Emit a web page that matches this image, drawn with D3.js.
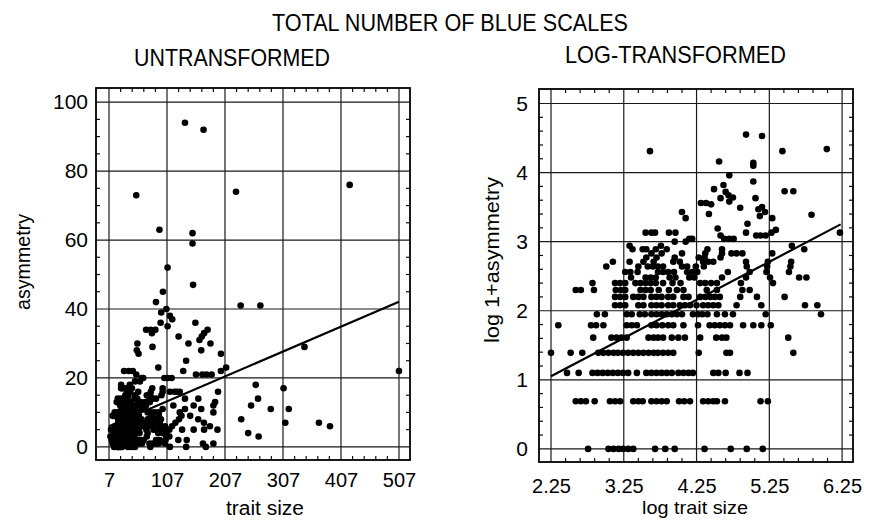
<!DOCTYPE html>
<html><head><meta charset="utf-8">
<script src="https://cdn.jsdelivr.net/npm/d3@7"></script>
<style>
body{margin:0;background:#fff}
text{font-family:"Liberation Sans",Arial,sans-serif;fill:#000}
</style>
</head><body>
<svg id="c" width="881" height="520"></svg>
<script>
// ---------- DATA ----------
const titleMain = "TOTAL NUMBER OF BLUE SCALES";
const titleLeft = "UNTRANSFORMED";
const titleRight = "LOG-TRANSFORMED";
const leftXLabel = "trait size", leftYLabel = "asymmetry";
const rightXLabel = "log trait size", rightYLabel = "log 1+asymmetry";

const leftXTicks = [7,107,207,307,407,507];
const leftYTicks = [0,20,40,60,80,100];
const rightXTicks = [2.25,3.25,4.25,5.25,6.25];
const rightYTicks = [0,1,2,3,4,5];

// untransformed: each row = [asymmetry, trait sizes...]
const untransformedRows = [
 [0, 15.8,20.9,22.4,24.0,25.5,27.4,29.4,39.6,45.6,51.9,78.3,112,140,174],
 [1, 13.3,14.3,15.3,17.3,21.3,22.9,24.5,29.4,31.5,33.4,37.7,40.4,43.4,46.5,55.2,59.1,64.1,76.7,82.3,88.2,92.8,103.5,169,187],
 [2, 11.8,13.9,16.8,18.0,19.3,20.7,22.2,23.8,25.5,27.4,30.9,35.2,37.7,40.4,43.4,46.5,49.9,54.6,58.6,62.8,66.7,88.2,94.6,104.6,126.5,141],
 [3, 9.5,12.4,14.6,18.2,19.5,20.9,22.4,23.8,25.5,27.4,29.4,31.5,33.8,36.2,38.9,41.3,44.3,47.5,50.9,72.2,105.6,111.1,265],
 [4, 16.9,21.8,23.3,25.0,26.8,36.2,38.9,41.3,44.3,49.9,54.6,59.7,73.7,91.8,99.5,105.6,247],
 [5, 10.5,16.4,17.6,19.5,26.8,28.8,30.9,37.7,40.4,43.8,47.5,50.9,58.6,71.5,83.9,90.0,96.5,103.5,111.1,133,153,171,194],
 [6, 17.8,19.9,26.8,28.8,32.1,34.5,37.7,40.4,43.4,46.5,49.9,53.5,57.4,66.7,71.5,75.9,81.5,92.8,103.5,115.6,181,388],
 [7, 22.9,24.5,26.3,31.5,33.8,37.7,40.4,43.4,47.5,50.9,55.7,59.7,64.1,70.1,76.7,82.3,88.2,94.6,121.5,170.7,311,369],
 [8, 22.9,24.5,26.3,29.4,31.5,33.8,37.7,40.4,43.4,47.5,50.9,58.6,62.8,73.7,79.0,84.8,90.0,96.5,127.7,160.8,235],
 [9, 13.3,14.3,17.1,23.1,24.8,26.3,32.5,34.8,37.3,41.7,47.9,53.5,58.6,80.6,92.8,132,147],
 [10, 16.8,22.9,24.5,26.3,30.3,32.5,34.8,37.3,40.0,44.3,50.4,56.3,73.7,79.0,85.6,92.8,129,187],
 [11, 28.5,34.8,37.3,40.0,48.4,52.5,63.4,68.0,99.5,138,166,286,317],
 [12, 26.3,28.2,31.2,41.3,44.3,47.5,51.4,61.6,66.0,70.8,118,153,187,252],
 [13, 20.3,31.5,35.9,38.5,41.3,44.3,57.4,61.6,69.4,77.5,190],
 [14, 22.2,27.9,33.8,38.9,50.9,55.7,76.7,82.3,88.2,138,161,264],
 [15, 35.2,40.4,51.9,72.2,78.3,97.5],
 [16, 37.7,43.4,57.4,79.0,99.5,112,120,124,129,195],
 [17, 27.9,29.1,33.4,35.2,40.0,46.5,81.5,99.5,308],
 [18, 27.9,42.9,260],
 [19, 51.9,60.3],
 [20, 63.4,66.0,102.5,108,115],
 [21, 54,157,168,175,184],
 [22, 33,41,48,135,200,507],
 [23, 92,209],
 [25, 140],
 [27, 58,200],
 [28, 55,166],
 [29, 82,344],
 [30, 56,144,182],
 [31, 163],
 [32, 127,167],
 [33, 81,171],
 [34, 71,79,87,177],
 [35, 108],
 [36, 96,156],
 [37, 116],
 [38, 112],
 [39, 97],
 [40, 106],
 [41, 234,268],
 [42, 88],
 [45, 100],
 [47, 152],
 [52, 108],
 [59, 151],
 [62, 151],
 [63, 94],
 [73, 54],
 [74, 226],
 [76, 422],
 [92, 170],
 [94, 138]
];

// log-transformed: each row = [log 1+asymmetry, log trait sizes...]
const logRows = [
 [0, 2.76,3.04,3.11,3.18,3.24,3.31,3.38,3.68,3.82,3.95,4.36,4.72,4.94,5.16],
 [0.69, 2.59,2.66,2.73,2.85,3.06,3.13,3.20,3.38,3.45,3.51,3.63,3.70,3.77,3.84,4.01,4.08,4.16,4.34,4.41,4.48,4.53,4.64,5.13,5.23],
 [1.10, 2.47,2.63,2.82,2.89,2.96,3.03,3.10,3.17,3.24,3.31,3.43,3.56,3.63,3.70,3.77,3.84,3.91,4.00,4.07,4.14,4.20,4.48,4.55,4.65,4.84,4.95],
 [1.39, 2.25,2.52,2.68,2.90,2.97,3.04,3.11,3.17,3.24,3.31,3.38,3.45,3.52,3.59,3.66,3.72,3.79,3.86,3.93,4.28,4.66,4.71,5.58],
 [1.61, 2.83,3.08,3.15,3.22,3.29,3.59,3.66,3.72,3.79,3.91,4.00,4.09,4.30,4.52,4.60,4.66,5.51],
 [1.79, 2.35,2.80,2.87,2.97,3.29,3.36,3.43,3.63,3.70,3.78,3.86,3.93,4.07,4.27,4.43,4.50,4.57,4.64,4.71,4.89,5.03,5.14,5.27],
 [1.95, 2.88,2.99,3.29,3.36,3.47,3.54,3.63,3.70,3.77,3.84,3.91,3.98,4.05,4.20,4.27,4.33,4.40,4.53,4.64,4.75,5.20,5.96],
 [2.08, 3.13,3.20,3.27,3.45,3.52,3.63,3.70,3.77,3.86,3.93,4.02,4.09,4.16,4.25,4.34,4.41,4.48,4.55,4.80,5.14,5.74,5.91],
 [2.20, 3.13,3.20,3.27,3.38,3.45,3.52,3.63,3.70,3.77,3.86,3.93,4.07,4.14,4.30,4.37,4.44,4.50,4.57,4.85,5.08,5.46],
 [2.30, 2.59,2.66,2.84,3.14,3.21,3.27,3.48,3.55,3.62,3.73,3.87,3.98,4.07,4.39,4.53,4.88,4.98],
 [2.40, 2.82,3.13,3.20,3.27,3.41,3.48,3.55,3.62,3.69,3.79,3.92,4.03,4.30,4.37,4.45,4.53,4.86,5.30],
 [2.48, 3.35,3.55,3.62,3.69,3.88,3.96,4.15,4.22,4.60,4.93,5.26,5.66,5.76],
 [2.56, 3.27,3.34,3.44,3.72,3.79,3.86,3.94,4.12,4.19,4.26,4.68,4.98,5.21,5.52],
 [2.64, 3.01,3.45,3.58,3.65,3.72,3.79,4.05,4.12,4.24,4.35,4.94,5.22,5.54],
 [2.71, 3.10,3.33,3.52,3.66,3.93,4.02,4.34,4.41,4.48,4.93,5.23,5.55],
 [2.77, 3.56,3.70,3.95,4.28,4.36,4.58],
 [2.83, 3.63,3.77,4.05,4.37,4.60,4.73,4.80,4.88,5.29],
 [2.89, 3.37,3.51,3.56,3.69,3.84,4.40,4.60,5.73],
 [2.94, 3.33,3.76,5.56],
 [3.00, 3.95,4.10],
 [3.04, 4.15,4.19,4.63,4.70,4.76],
 [3.09, 4.58,5.07,5.13,5.20],
 [3.13, 3.55,3.63,3.68,3.87,3.96,4.93,5.28,6.22],
 [3.17, 5.34],
 [3.19, 4.54],
 [3.26, 4.95],
 [3.34, 4.10,5.29],
 [3.37, 5.12],
 [3.39, 5.83],
 [3.40, 4.42],
 [3.43, 4.05,5.19],
 [3.47, 5.10],
 [3.49, 4.85],
 [3.50, 5.15],
 [3.54, 4.45],
 [3.56, 4.31,4.38],
 [3.58, 4.70],
 [3.63, 4.58,5.06],
 [3.64, 4.75],
 [3.67, 4.69],
 [3.72, 4.65],
 [3.73, 5.46,5.58],
 [3.76, 4.49],
 [3.82, 4.62],
 [3.87, 5.03],
 [3.96, 4.70],
 [4.10, 5.03],
 [4.14, 5.03],
 [4.16, 4.56],
 [4.31, 3.61,5.43],
 [4.34, 6.04],
 [4.53, 5.15],
 [4.55, 4.93]
];

// fitted lines (endpoints)
const untransformedFit = [[7, 6.0],[507, 42.1]];
const logFit = [[2.25, 1.05],[6.23, 3.25]];

// ---------- DRAW ----------
const svg = d3.select("#c");
const flat = rows => rows.flatMap(r => r.slice(1).map(x => [x, r[0]]));

function panel(o){
  const g = svg.append("g");
  const [x0,x1] = o.x.range(), [y0,y1] = o.y.range(); // y0 bottom, y1 top
  // grid
  g.selectAll(".gx").data(o.xTicks).join("line")
    .attr("x1",d=>o.x(d)).attr("x2",d=>o.x(d)).attr("y1",y0).attr("y2",y1)
    .attr("stroke","#1a1a1a").attr("stroke-width",1.2);
  g.selectAll(".gy").data(o.yTicks).join("line")
    .attr("y1",d=>o.y(d)).attr("y2",d=>o.y(d)).attr("x1",x0).attr("x2",x1)
    .attr("stroke","#1a1a1a").attr("stroke-width",1.2);
  // minor ticks (inside, all four sides)
  const tl = 4;
  o.xMinor.forEach(v=>{
    const px=o.x(v);
    g.append("line").attr("x1",px).attr("x2",px).attr("y1",y0).attr("y2",y0-tl).attr("stroke","#111").attr("stroke-width",1.2);
    g.append("line").attr("x1",px).attr("x2",px).attr("y1",y1).attr("y2",y1+tl).attr("stroke","#111").attr("stroke-width",1.2);
  });
  o.yMinor.forEach(v=>{
    const py=o.y(v);
    g.append("line").attr("y1",py).attr("y2",py).attr("x1",x0).attr("x2",x0+tl).attr("stroke","#111").attr("stroke-width",1.2);
    g.append("line").attr("y1",py).attr("y2",py).attr("x1",x1).attr("x2",x1-tl).attr("stroke","#111").attr("stroke-width",1.2);
  });
  // frame
  g.append("rect").attr("x",x0).attr("y",y1).attr("width",x1-x0).attr("height",y0-y1)
    .attr("fill","none").attr("stroke","#000").attr("stroke-width",1.8);
  // points
  g.selectAll("circle").data(o.points).join("circle")
    .attr("cx",d=>o.x(d[0])).attr("cy",d=>o.y(d[1])).attr("r",3.3).attr("fill","#000");
  // fit line
  g.append("path").datum(o.fit)
    .attr("d", d3.line().x(d=>o.x(d[0])).y(d=>o.y(d[1])))
    .attr("stroke","#000").attr("stroke-width",2.2).attr("fill","none");
  // axes labels
  const ax = g.append("g").attr("transform",`translate(0,${o.xLabY})`)
    .call(d3.axisBottom(o.x).tickValues(o.xTicks).tickSize(0).tickPadding(0).tickFormat(o.xFmt));
  ax.select(".domain").remove();
  ax.selectAll("text").attr("font-size",o.xfs).attr("font-family","Liberation Sans, Arial, sans-serif")
    .attr("fill","#000").attr("dy","0.35em").attr("y",0);
  const ay = g.append("g").attr("transform",`translate(${o.yLabX},0)`)
    .call(d3.axisLeft(o.y).tickValues(o.yTicks).tickSize(0).tickPadding(0).tickFormat(d3.format("d")));
  ay.select(".domain").remove();
  ay.selectAll("text").attr("font-size",o.yfs).attr("font-family","Liberation Sans, Arial, sans-serif")
    .attr("fill","#000").attr("x",0);
  return g;
}

const xL = d3.scaleLinear().domain([-15.4, 526]).range([96, 410]);
const yL = d3.scaleLinear().domain([-3.8, 104.1]).range([460, 88]);
const xR = d3.scaleLinear().domain([2.085, 6.40]).range([539, 853]);
const yR = d3.scaleLinear().domain([-0.19, 5.21]).range([462, 89]);

panel({x:xL, y:yL, xTicks:leftXTicks, yTicks:leftYTicks,
  xMinor:d3.range(7,508,20).filter(v=>(v-7)%100!==0),
  yMinor:d3.range(0,101,5).filter(v=>v%20!==0),
  points:flat(untransformedRows), fit:untransformedFit,
  xLabY:480, yLabX:88, xfs:20, yfs:21, xFmt:d=>d});

panel({x:xR, y:yR, xTicks:rightXTicks, yTicks:rightYTicks,
  xMinor:d3.range(0,21).filter(i=>i%5!==0).map(i=>2.25+i*0.2),
  yMinor:d3.range(0,26).filter(i=>i%5!==0).map(i=>i*0.2),
  points:flat(logRows), fit:logFit,
  xLabY:486, yLabX:528, xfs:20, yfs:21, xFmt:d3.format(".2f")});

// titles
function txt(s, x, y, fs, len, anchor, rot){
  const t = svg.append("text").text(s).attr("font-size",fs)
    .attr("text-anchor",anchor||"middle");
  if(rot){ t.attr("transform",`translate(${x},${y}) rotate(-90)`); }
  else { t.attr("x",x).attr("y",y); }
  if(len) t.attr("textLength",len).attr("lengthAdjust","spacingAndGlyphs");
  return t;
}
txt(titleMain, 450, 31, 24, 356);
txt(titleLeft, 232, 66, 24, 196);
txt(titleRight, 675.5, 63, 24, 221);
txt(leftXLabel, 265, 515, 20, 78);
txt(rightXLabel, 695, 514, 19, 106);
txt(leftYLabel, 30, 262, 21, 96, "middle", true);
txt(rightYLabel, 499, 260, 21, 166, "middle", true);
</script>
</body></html>
